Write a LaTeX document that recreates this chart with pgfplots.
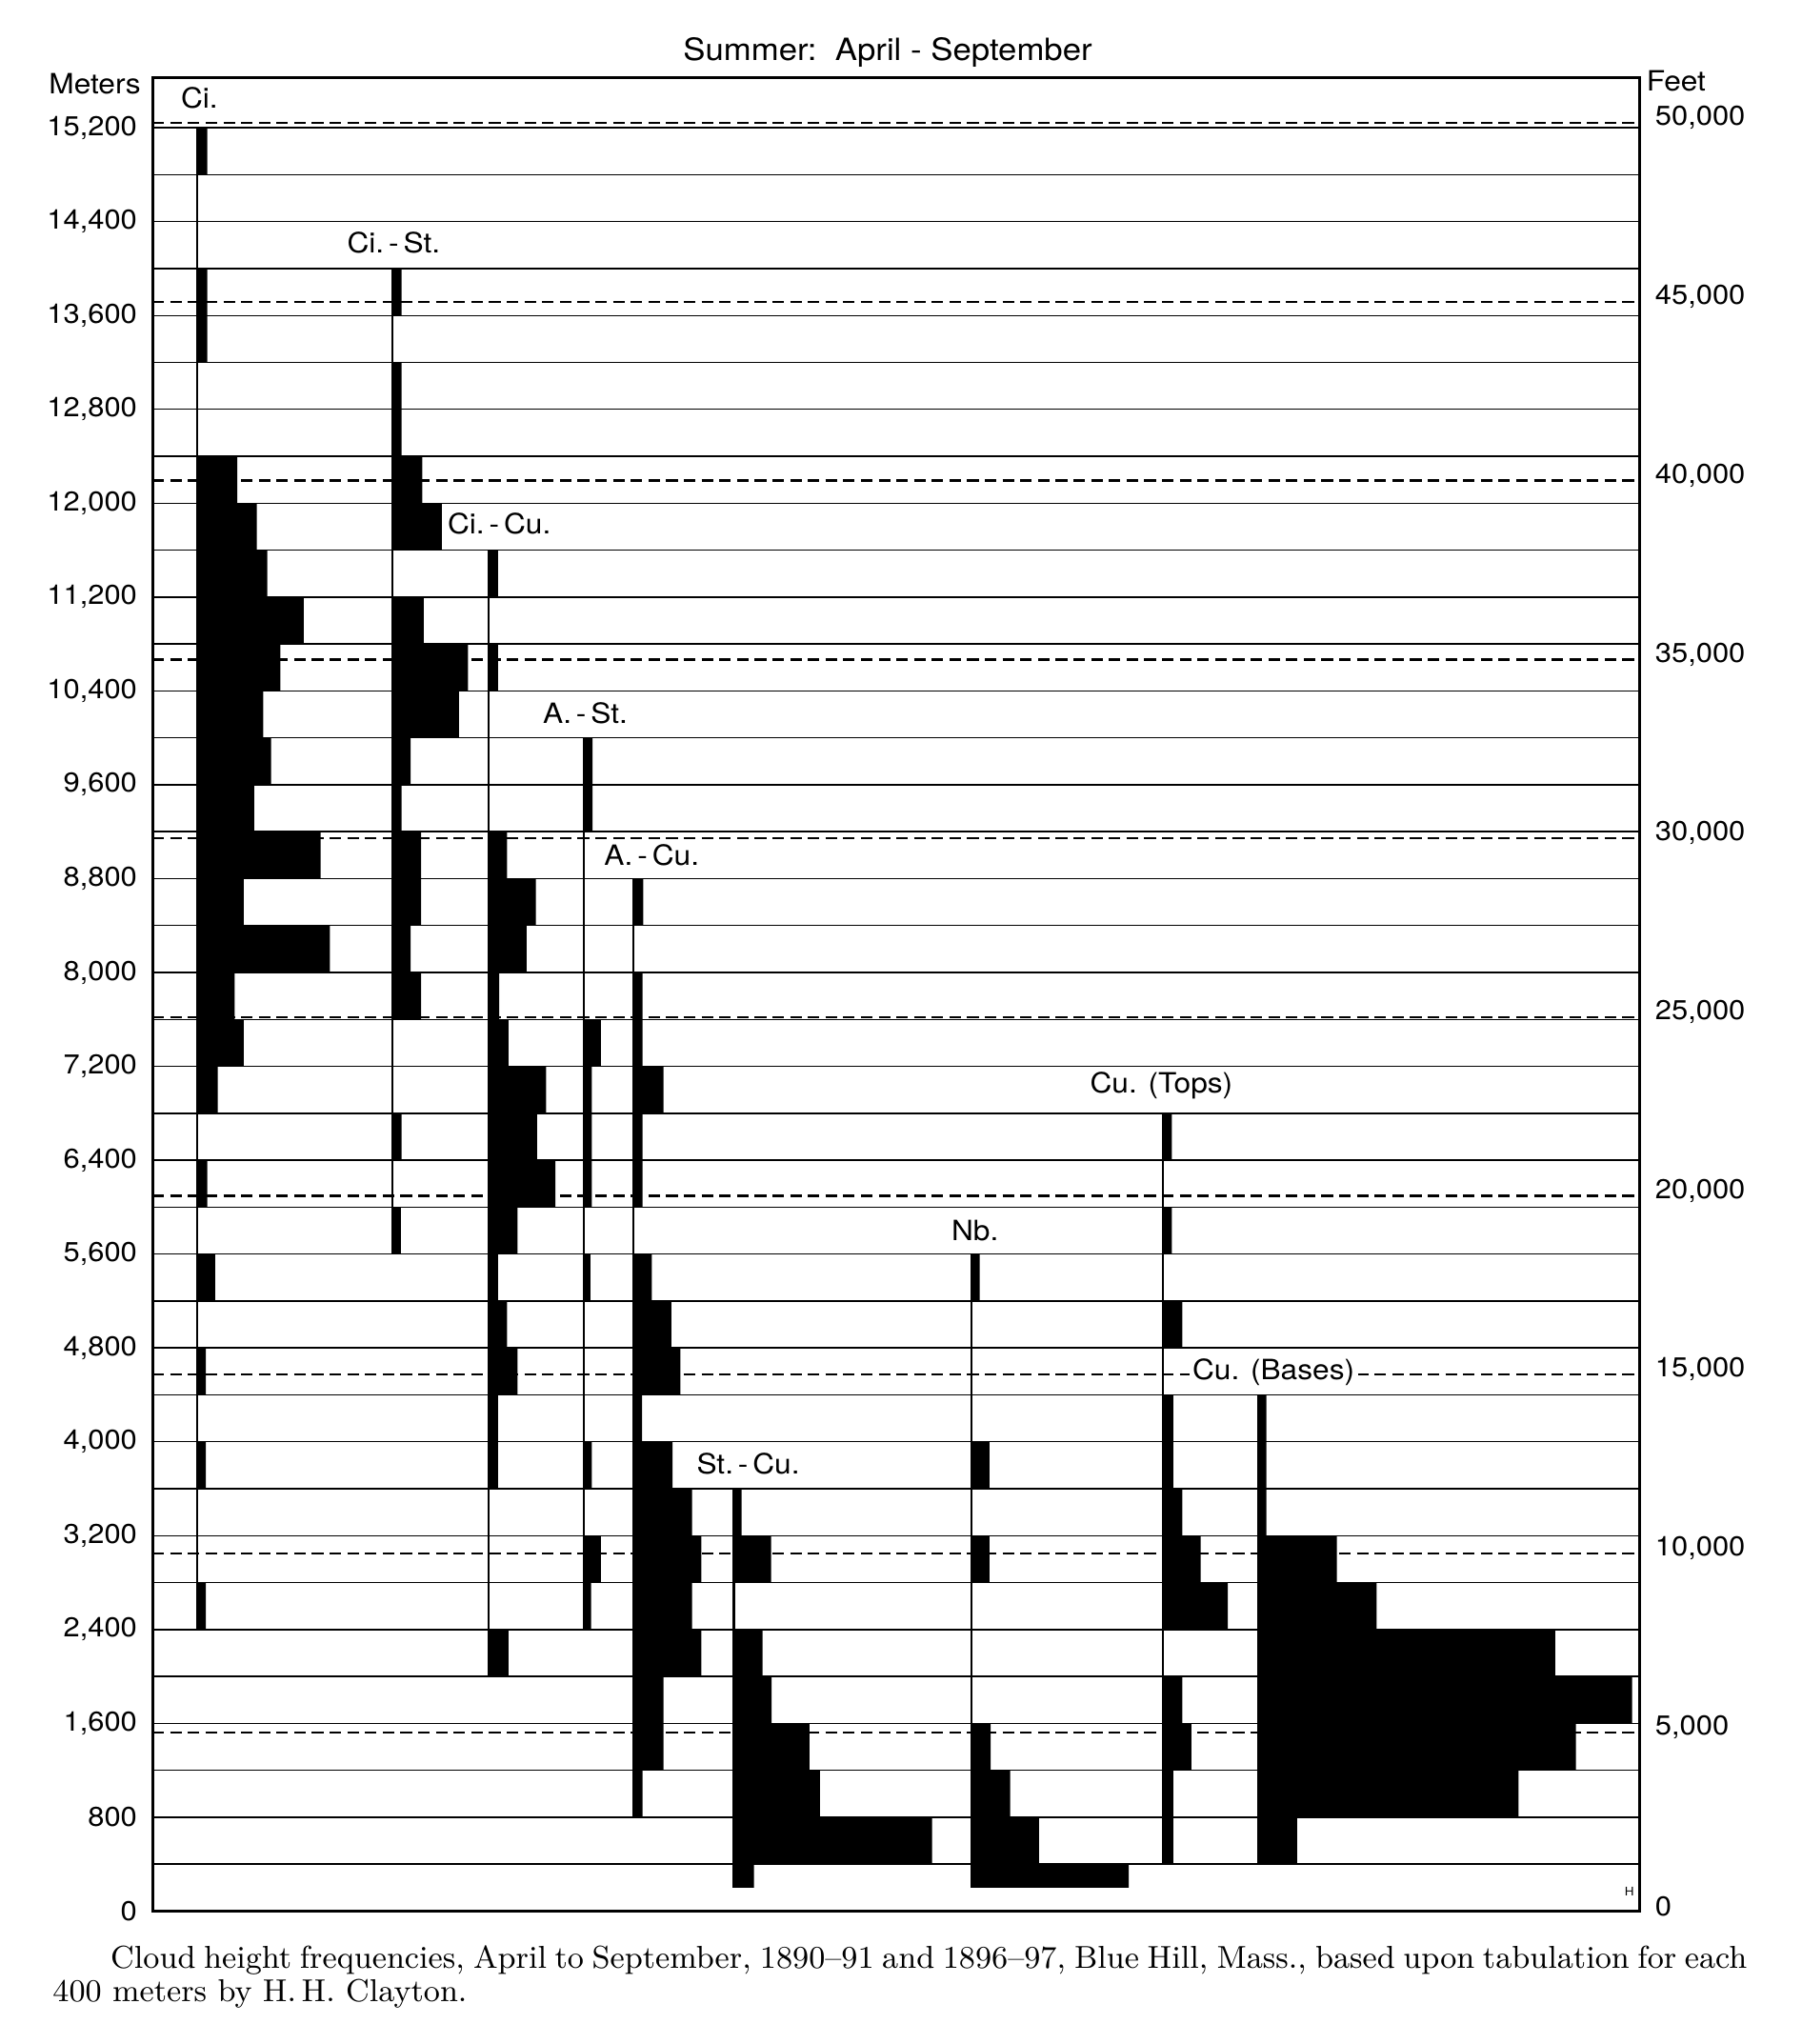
\documentclass[border=0pt]{standalone}
\usepackage{fontspec}
\setsansfont[FakeStretch=1.08]{TeX Gyre Heros}
\usepackage{pgfplots}
\pgfplotsset{compat=1.18}
\usepackage{pgfplotstable}

% bins: w = bar length (chart units), m = lower edge of 400 m bin (metres)
\pgfplotstableread{
w m
0 2400
7 2400
0 2800
0 3200
7 3600
0 4000
7 4400
0 4800
14 5200
0 5600
8 6000
0 6400
16 6800
36 7200
29 7600
102 8000
36 8400
95 8800
44 9200
57 9600
51 10000
64 10400
82 10800
54 11200
46 11600
31 12000
0 12400
0 12800
8 13200
8 13600
0 14000
0 14400
8 14800
8 15200
0 15200
}\dataCi
\pgfplotstableread{
w m
0 5600
6.5 5600
0 6000
7 6400
0 6800
0 7200
22 7600
14 8000
22 8400
22 8800
7 9200
14 9600
51 10000
58 10400
24 10800
0 11200
38 11600
23 12000
7 12400
7 12800
0 13200
7 13600
7 14000
0 14000
}\dataCiSt
\pgfplotstableread{
w m
0 2000
15 2000
0 2400
0 2800
0 3200
7 3600
7 4000
22 4400
14 4800
7 5200
22 5600
51 6000
37 6400
44 6800
15 7200
8 7600
29 8000
36 8400
14 8800
0 9200
0 9600
0 10000
7 10400
0 10800
7 11200
7 11600
0 11600
}\dataCiCu
\pgfplotstableread{
w m
0 2400
5.5 2400
13 2800
0 3200
6 3600
0 4000
0 4400
0 4800
5 5200
0 5600
6 6000
6 6400
6 6800
13 7200
0 7600
0 8000
0 8400
0 8800
6.5 9200
6.5 9600
6.5 10000
0 10000
}\dataASt
\pgfplotstableread{
w m
0 800
7 800
23 1200
23 1600
52 2000
45 2400
52 2800
45 3200
30 3600
6.5 4000
36 4400
29 4800
14 5200
0 5600
7 6000
7 6400
23 6800
7 7200
7 7600
0 8000
7.5 8400
7.5 8800
0 8800
}\dataACu
\pgfplotstableread{
w m
0 200
15.5 200
152 400
66 800
58 1200
29 1600
22 2000
0 2400
28.5 2800
6 3200
6 3600
0 3600
}\dataStCu
\pgfplotstableread{
w m
0 200
121 200
52 400
30 800
15 1200
0 1600
0 2000
0 2400
14 2800
0 3200
14 3600
0 4000
0 4400
0 4800
6.5 5200
6.5 5600
0 5600
}\dataNb
\pgfplotstableread{
w m
0 400
8 400
8 800
22 1200
15 1600
0 2000
50 2400
29 2800
15 3200
8 3600
8 4000
0 4400
15 4800
0 5200
7 5600
0 6000
7 6400
7 6800
0 6800
}\dataCuT
\pgfplotstableread{
w m
0 400
30 400
200 800
244 1200
287 1600
228 2000
91 2400
60.5 2800
6.5 3200
6.5 3600
6.5 4000
6.5 4400
0 4400
}\dataCuB

\pgfplotsset{
  freqbar/.style={fill=black, draw=none, const plot mark right},
  baseln/.style={black, line width=0.6pt},
}
\tikzset{lab/.style={font=\sffamily\fontsize{8.2}{9}\selectfont, inner sep=1pt}}

\begin{document}
\begin{tikzpicture}
% --- feet scale (right) with dashed 5,000 ft lines
\begin{axis}[
  scale only axis, width=436.7pt, height=538.4pt,
  xmin=117, xmax=1258, ymin=0, ymax=51280,
  hide x axis, axis y line*=right, y axis line style={draw=none},
  ytick={0,5000,...,50000}, scaled y ticks=false,
  ymajorgrids, major grid style={black, line width=0.65pt, dash pattern=on 3.4pt off 1.8pt},
  major tick length=0pt,
  /pgf/number format/assume math mode=true,
  /pgf/number format/1000 sep={,},
  yticklabel style={font=\sffamily\fontsize{8}{9}\selectfont, anchor=west, xshift=1pt, yshift=1.5pt},
]
\end{axis}
% --- metres scale (left) with the frequency bars
\begin{axis}[
  scale only axis, width=436.7pt, height=538.4pt,
  xmin=117, xmax=1258, ymin=0, ymax=15630,
  clip=false, xtick=\empty,
  ytick={0,800,...,15200}, minor ytick={400,1200,...,14800}, scaled y ticks=false,
  ymajorgrids, yminorgrids,
  major grid style={black, line width=0.4pt},
  minor grid style={black, line width=0.4pt},
  major tick length=0pt, minor tick length=0pt,
  axis line style={line width=0.9pt},
  /pgf/number format/assume math mode=true,
  /pgf/number format/1000 sep={,},
  yticklabel style={font=\sffamily\fontsize{8}{9}\selectfont, xshift=-1pt},
]
\addplot[freqbar] table[x expr=\thisrow{w}+151, y=m] {\dataCi};
\addplot[freqbar] table[x expr=\thisrow{w}+301, y=m] {\dataCiSt};
\addplot[freqbar] table[x expr=\thisrow{w}+375, y=m] {\dataCiCu};
\addplot[freqbar] table[x expr=\thisrow{w}+448, y=m] {\dataASt};
\addplot[freqbar] table[x expr=\thisrow{w}+486, y=m] {\dataACu};
\addplot[freqbar] table[x expr=\thisrow{w}+563, y=m] {\dataStCu};
\addplot[freqbar] table[x expr=\thisrow{w}+745, y=m] {\dataNb};
\addplot[freqbar] table[x expr=\thisrow{w}+892, y=m] {\dataCuT};
\addplot[freqbar] table[x expr=\thisrow{w}+965, y=m] {\dataCuB};

\addplot[baseln] coordinates {(151,2400) (151,15200)};
\addplot[baseln] coordinates {(301,5600) (301,14000)};
\addplot[baseln] coordinates {(375,2000) (375,11600)};
\addplot[baseln] coordinates {(448,2400) (448,10000)};
\addplot[baseln] coordinates {(486,800) (486,8800)};
\addplot[baseln] coordinates {(563,200) (563,3600)};
\addplot[baseln] coordinates {(745,200) (745,5600)};
\addplot[baseln] coordinates {(892,400) (892,6800)};
\addplot[baseln] coordinates {(965,400) (965,4400)};

\node[lab] at (axis cs:153,15456) {Ci.};
\node[lab] at (axis cs:302,14222) {Ci.\,-\,St.};
\node[lab] at (axis cs:383,11822) {Ci.\,-\,Cu.};
\node[lab] at (axis cs:449,10211) {A.\,-\,St.};
\node[lab] at (axis cs:500,9000) {A.\,-\,Cu.};
\node[lab] at (axis cs:574,3811) {St.\,-\,Cu.};
\node[lab] at (axis cs:748,5800) {Nb.};
\node[lab] at (axis cs:891,7033) {Cu. (Tops)};
\node[lab, fill=white] at (axis cs:977,4590) {Cu. (Bases)};
\node[font=\sffamily\fontsize{3.5}{4}\selectfont, inner sep=0pt] at (axis cs:1250,170) {H};

\node[lab, anchor=east] at (axis cs:111,15575) {Meters};
\node[lab, anchor=west] at (axis cs:1260,15595) {Feet};
\node[font=\sffamily\fontsize{9}{10}\selectfont] at (axis cs:681,15844) {Summer:\ \ April - September};

\node[anchor=north west, inner sep=0pt, text width=497.5pt, align=justify,
      font=\fontsize{9.3}{9.6}\selectfont] at (axis cs:40,-290)
  {\hspace*{17pt}Cloud height frequencies, April to September, 1890--91 and 1896--97, Blue Hill, Mass., based upon tabulation for each\linebreak 400 meters by H.\,H. Clayton.};

\path (axis cs:0,-1133) rectangle (axis cs:1382,16289);
\end{axis}
\end{tikzpicture}
\end{document}
